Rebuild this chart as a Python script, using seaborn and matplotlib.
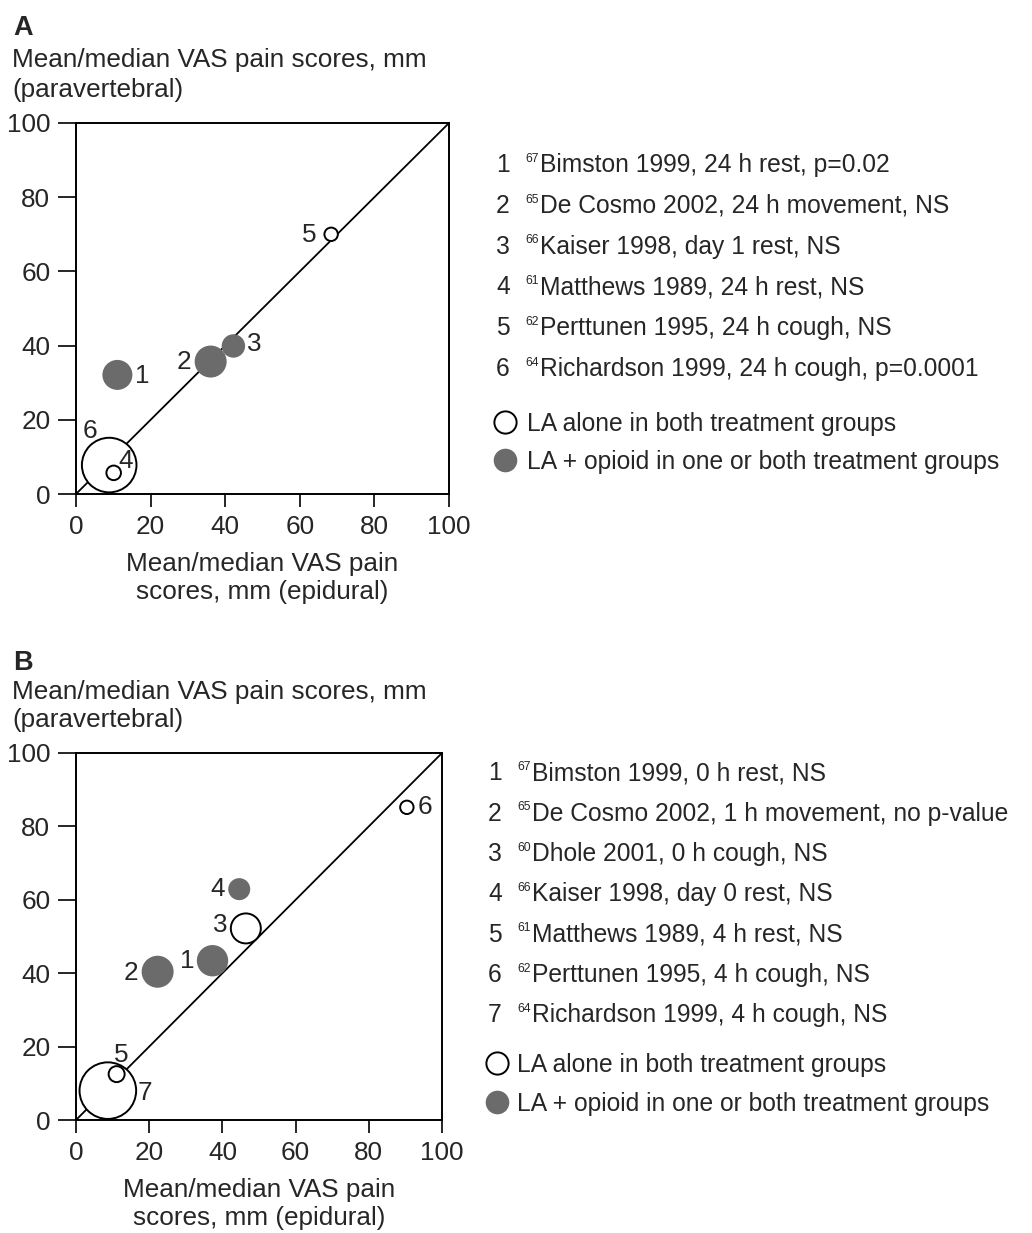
import matplotlib
matplotlib.use("Agg")
import matplotlib.pyplot as plt
import seaborn as sns
import pandas as pd

# ---------------- data ----------------
# Panel A (24 h / day 1)
a_ids = [1, 2, 3, 4, 5, 6]
a_epidural = [11.1, 36.1, 42.2, 10.1, 68.4, 8.9]
a_paravertebral = [32.1, 35.7, 39.9, 5.7, 70.0, 7.8]
a_weight = [225, 256, 137, 53, 45, 745]
a_group = ["opioid", "opioid", "opioid", "LA", "LA", "LA"]
a_refs = ["67", "65", "66", "61", "62", "64"]
a_studies = ["Bimston 1999, 24 h rest, p=0.02",
             "De Cosmo 2002, 24 h movement, NS",
             "Kaiser 1998, day 1 rest, NS",
             "Matthews 1989, 24 h rest, NS",
             "Perttunen 1995, 24 h cough, NS",
             "Richardson 1999, 24 h cough, p=0.0001"]

# Panel B (early time points)
b_ids = [1, 2, 3, 4, 5, 6, 7]
b_epidural = [37.3, 22.3, 46.4, 44.6, 11.1, 90.4, 8.7]
b_paravertebral = [43.4, 40.4, 52.2, 62.9, 12.5, 85.2, 8.0]
b_weight = [246, 256, 225, 121, 64, 45, 801]
b_group = ["opioid", "opioid", "LA", "opioid", "LA", "LA", "LA"]
b_refs = ["67", "65", "60", "66", "61", "62", "64"]
b_studies = ["Bimston 1999, 0 h rest, NS",
             "De Cosmo 2002, 1 h movement, no p-value",
             "Dhole 2001, 0 h cough, NS",
             "Kaiser 1998, day 0 rest, NS",
             "Matthews 1989, 4 h rest, NS",
             "Perttunen 1995, 4 h cough, NS",
             "Richardson 1999, 4 h cough, NS"]

ticks = [0, 20, 40, 60, 80, 100]
legend_open = "LA alone in both treatment groups"
legend_filled = "LA + opioid in one or both treatment groups"
ylab = ["Mean/median VAS pain scores, mm", "(paravertebral)"]
xlab = "Mean/median VAS pain\nscores, mm (epidural)"

# ---------------- style ----------------
sns.set_theme(style="ticks")
plt.rcParams["font.family"] = ["Liberation Sans", "DejaVu Sans"]
FS = 17.7      # legend text
FSA = 18.8     # axis text
GREY = "#6b6b6b"

W, H = 1032, 1233
fig = plt.figure(figsize=(W / 100, H / 100), dpi=100)

# overlay axes in pixel coordinates for free text / legend
ov = fig.add_axes([0, 0, 1, 1])
ov.set_xlim(0, W)
ov.set_ylim(H, 0)
ov.axis("off")


def make_panel(box, ids, xs, ys, wts, grp, offsets, xlabel_y):
    left, top, right, bottom = box
    ax = fig.add_axes([left / W, 1 - bottom / H, (right - left) / W, (bottom - top) / H])
    df = pd.DataFrame({"x": xs, "y": ys, "n": wts, "g": grp, "id": ids})
    ax.axline((0, 0), slope=1, color="black", lw=1.3, zorder=1)
    df_open = df[df.g == "LA"].sort_values("n", ascending=False)
    df_fill = df[df.g == "opioid"].sort_values("n", ascending=False)
    sns.scatterplot(data=df_fill, x="x", y="y", size="n", sizes=(0, 2073.6),
                    size_norm=(0, 1000), color=GREY, edgecolor=GREY, linewidth=0,
                    legend=False, ax=ax, zorder=3)
    sns.scatterplot(data=df_open, x="x", y="y", size="n", sizes=(0, 2073.6),
                    size_norm=(0, 1000), color="white", edgecolor="black", linewidth=1.4,
                    legend=False, ax=ax, zorder=3)
    for (i, x, y), (dx, dy) in zip(zip(ids, xs, ys), offsets):
        ax.annotate(str(i), xy=(x, y), xytext=(dx, -dy), textcoords="offset pixels",
                    ha="center", va="center", fontsize=FSA, zorder=5)
    ax.set_xlim(0, 100)
    ax.set_ylim(0, 100)
    ax.set_xticks(ticks)
    ax.set_yticks(ticks)
    ax.tick_params(axis="y", length=13, width=1.4, pad=5.5, labelsize=FSA, direction="out")
    ax.tick_params(axis="x", length=9, width=1.4, pad=6, labelsize=FSA, direction="out")
    for sp in ax.spines.values():
        sp.set_linewidth(1.4)
        sp.set_color("black")
    ax.set_ylabel("")
    ax.set_xlabel(xlab, fontsize=FSA, linespacing=1.2)
    ax.xaxis.set_label_coords(0.5, -(xlabel_y - bottom) / (bottom - top))
    ax.xaxis.label.set_va("top")
    return ax


offs_a = [(24.4, 1), (-26.4, 0), (20.7, -2), (12.3, -12), (-21.7, 0.7), (-19.3, -34)]
offs_b = [(-25, 0), (-26.7, 1.6), (-25.7, -3.3), (-22, 0), (4.6, -19), (17.6, 0), (37.3, 2.6)]

make_panel((76, 123, 449, 494), a_ids, a_epidural, a_paravertebral, a_weight, a_group, offs_a, 552)
make_panel((76, 753, 442, 1120), b_ids, b_epidural, b_paravertebral, b_weight, b_group, offs_b, 1178)

# panel letters and y-axis titles
CAP = 8.8
CAPA = 9.4
ov.text(13, 35, "A", fontsize=19.5, fontweight="bold", ha="left", va="baseline")
ov.text(12, 58 + CAPA, ylab[0], fontsize=FSA, ha="left", va="baseline")
ov.text(12, 88 + CAPA, ylab[1], fontsize=FSA, ha="left", va="baseline")
ov.text(13, 670, "B", fontsize=19.5, fontweight="bold", ha="left", va="baseline")
ov.text(12, 690 + CAPA, ylab[0], fontsize=FSA, ha="left", va="baseline")
ov.text(12, 718 + CAPA, ylab[1], fontsize=FSA, ha="left", va="baseline")


def study_list(ids, refs, studies, x_num, x_sup, x_txt, y0, dy):
    for k, (i, r, s) in enumerate(zip(ids, refs, studies)):
        yc = y0 + k * dy
        ov.text(x_num, yc + CAP, str(i), fontsize=FS, ha="left", va="baseline")
        ov.text(x_sup, yc - 1.5, r, fontsize=8.8, ha="left", va="baseline")
        ov.text(x_txt, yc + CAP, s, fontsize=FS, ha="left", va="baseline")


def marker_legend(xc, y_open, y_fill, x_txt):
    ov.plot([xc], [y_open], marker="o", ms=16, mfc="white", mec="black", mew=1.4, ls="none")
    ov.plot([xc], [y_fill], marker="o", ms=17, mfc=GREY, mec=GREY, mew=0, ls="none")
    ov.text(x_txt, y_open + CAP, legend_open, fontsize=FS, ha="left", va="baseline")
    ov.text(x_txt, y_fill + CAP, legend_filled, fontsize=FS, ha="left", va="baseline")


study_list(a_ids, a_refs, a_studies, 496, 525, 540, 163.3, 40.8)
marker_legend(505, 421.7, 460.0, 527)
study_list(b_ids, b_refs, b_studies, 488, 517, 532, 771.7, 40.27)
marker_legend(497, 1063.0, 1101.7, 517)

fig.savefig("out.png", dpi=100, facecolor="white")
